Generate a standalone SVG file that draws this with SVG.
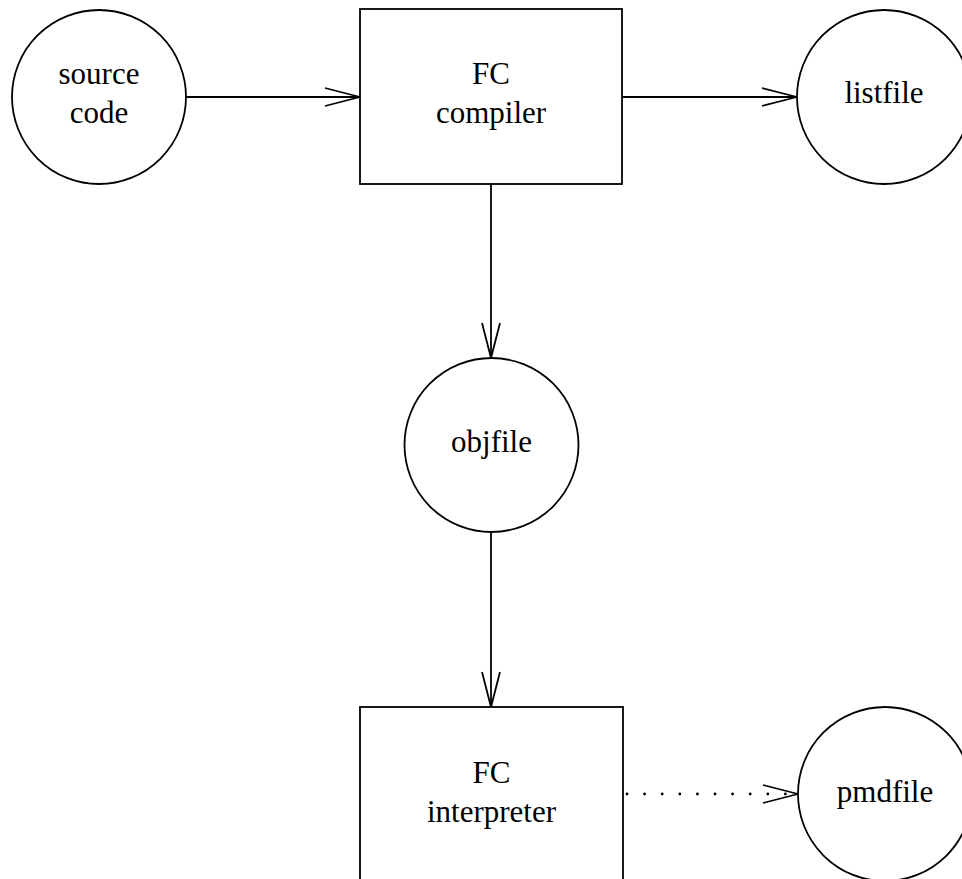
<svg xmlns="http://www.w3.org/2000/svg" width="962" height="879" viewBox="0 0 962 879">
<style>
.shape{fill:#fff;stroke:#000;stroke-width:1.8}
.edge{fill:none;stroke:#000;stroke-width:1.8}
.dot{fill:none;stroke:#000;stroke-width:2.8;stroke-linecap:round;stroke-dasharray:0 17.6}
.lbl{font-family:'Liberation Serif','Times New Roman',Tinos,Times,'Nimbus Roman','DejaVu Serif',serif;font-size:31px;fill:#000;text-anchor:middle}
</style>
<defs>
<marker id="arr" markerUnits="userSpaceOnUse" orient="auto" refX="0" refY="0" markerWidth="40" markerHeight="20" overflow="visible">
<path d="M-35,-9 L0,0 L-35,9" fill="none" stroke="#000" stroke-width="1.8"/>
</marker>
</defs>
<rect width="962" height="879" fill="#fff"/>
<g id="connectors">
<line class="edge" x1="186" y1="97" x2="360" y2="97" marker-end="url(#arr)"/>
<line class="edge" x1="622" y1="97" x2="797" y2="97" marker-end="url(#arr)"/>
<line class="edge" x1="491" y1="184" x2="491" y2="358" marker-end="url(#arr)"/>
<line class="edge" x1="491" y1="532" x2="491" y2="707" marker-end="url(#arr)"/>
<line class="dot" x1="627" y1="794" x2="805" y2="794"/>
<path class="edge" d="M763,785 L798,794 L763,803"/>
</g>
<g id="source-code">
<circle class="shape" cx="99" cy="97" r="87"/>
<text class="lbl" x="99" y="84" font-family="Liberation Serif, serif">source</text>
<text class="lbl" x="99" y="123" font-family="Liberation Serif, serif">code</text>
</g>
<g id="fc-compiler">
<rect class="shape" x="360" y="9" width="262" height="175"/>
<text class="lbl" x="491" y="84">FC</text>
<text class="lbl" x="491" y="123">compiler</text>
</g>
<g id="listfile">
<circle class="shape" cx="884" cy="97" r="87"/>
<text class="lbl" x="884" y="103">listfile</text>
</g>
<g id="objfile">
<circle class="shape" cx="491.5" cy="445" r="87"/>
<text class="lbl" x="491.5" y="452">objfile</text>
</g>
<g id="fc-interpreter">
<rect class="shape" x="360" y="707" width="263" height="175"/>
<text class="lbl" x="491.5" y="783">FC</text>
<text class="lbl" x="491.5" y="822">interpreter</text>
</g>
<g id="pmdfile">
<circle class="shape" cx="885" cy="794" r="87"/>
<text class="lbl" x="885" y="802">pmdfile</text>
</g>
</svg>
